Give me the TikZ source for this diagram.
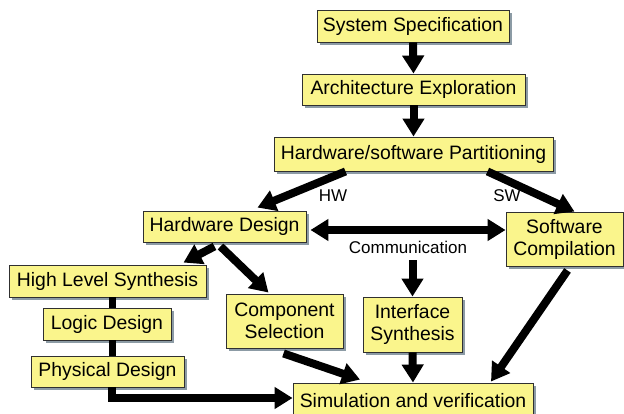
\documentclass[tikz,border=0pt]{standalone}
\usepackage{fontspec}
\setmainfont{Liberation Sans}
\usetikzlibrary{arrows.meta,shadows,calc}
\definecolor{boxfill}{HTML}{FAF58C}
\definecolor{boxshade}{HTML}{8C9BA5}
\definecolor{boxline}{HTML}{303030}
\begin{document}
\begin{tikzpicture}[x=1pt,y=-1pt,
  stage/.style={draw=boxline, line width=0.9pt, fill=boxfill, inner sep=0pt,
    align=center, font=\fontsize{19.4}{22}\selectfont,
    drop shadow={shadow xshift=3pt, shadow yshift=-3pt, fill=boxshade, opacity=1}},
  tag/.style={inner sep=1pt, font=\fontsize{17}{20}\selectfont},
  flow/.style={line width=8pt, -{Triangle[width=21pt,length=18pt]}},
  twoway/.style={line width=8pt, {Triangle[width=21pt,length=18pt]}-{Triangle[width=21pt,length=18pt]}},
  link/.style={line width=7pt}]
\useasboundingbox (0,0) rectangle (624,414);

% boxes
\node[stage, minimum width=192pt, minimum height=32pt] (spec) at (413,26) {System Specification};
\node[stage, minimum width=223pt, minimum height=31pt] (arch) at (413.5,89.5) {Architecture Exploration};
\node[stage, minimum width=279pt, minimum height=34pt] (hwsw) at (413.5,154) {Hardware/software Partitioning};
\node[stage, minimum width=163pt, minimum height=31pt] (hwd) at (224.5,226.5) {Hardware Design};
\node[stage, minimum width=117pt, minimum height=54pt] (swc) at (564.5,239) {Software\\Compilation};
\node[stage, minimum width=197pt, minimum height=32pt] (hls) at (107.5,281) {High Level Synthesis};
\node[stage, minimum width=128pt, minimum height=32pt] (logic) at (107,324) {Logic Design};
\node[stage, minimum width=153pt, minimum height=31pt] (phys) at (107.5,371.5) {Physical Design};
\node[stage, minimum width=117pt, minimum height=54pt] (comp) at (284.5,321) {Component\\Selection};
\node[stage, minimum width=99pt, minimum height=55pt] (intf) at (412.5,324.5) {Interface\\Synthesis};
\node[stage, minimum width=240pt, minimum height=36pt] (sim) at (413,401) {Simulation and verification};

% labels
\node[tag] (hw) at (333,196) {HW};
\node[tag] (sw) at (507,196) {SW};
\node[tag] (comm) at (408,247) {Communication};

% connectors
\draw[flow] (spec.south) -- (arch.north);
\draw[flow] (arch.south) -- (hwsw.north);
\draw[flow] ($(hwsw.south)+(-68,0)$) -- ($(hwd.north)+(33,-3)$);
\draw[flow] ($(hwsw.south)+(74,0)$) -- ($(swc.north)+(10,0)$);
\draw[twoway] ($(hwd.east)+(4,3.5)$) -- ($(swc.west)+(0,-9)$);
\draw[flow] ($(comm.south -| intf.north)+(0,6)$) -- (intf.north);
\draw[flow] ($(hwd.south)+(-10,4)$) -- ($(hls.north)+(76,-2)$);
\draw[flow] ($(hwd.south)+(-4,4)$) -- ($(comp.north)+(-16,-1)$);
\draw[link] ([xshift=4.5pt]hls.south) -- ([xshift=5pt]logic.north);
\draw[link] ([xshift=5pt]logic.south) -- ([xshift=4.5pt]phys.north);
\draw[flow] ([xshift=4.5pt]phys.south) |- ([yshift=3pt]sim.west);
\draw[flow] ($(comp.south)+(-1,5)$) -- ($(sim.north)+(-53,-3)$);
\draw[flow] (intf.south) -- (sim.north);
\draw[flow] ($(swc.south)+(3,4)$) -- ($(sim.north)+(78,-1)$);
\end{tikzpicture}
\end{document}
